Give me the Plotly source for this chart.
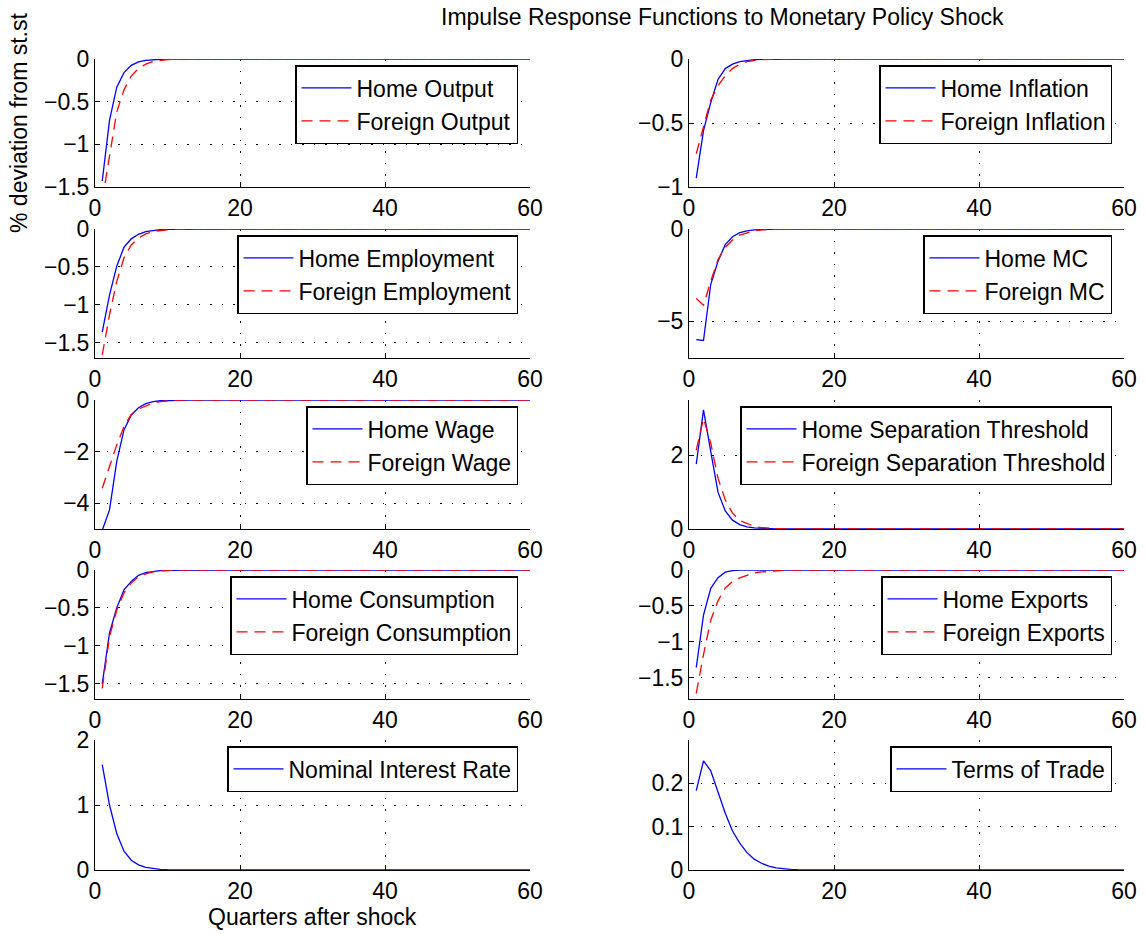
import plotly.graph_objects as go

W, H = 1146, 934
N = 60
quarters = list(range(1, N + 1))


def pad(vals):
    return list(vals) + [0.0] * (N - len(vals))


home_output = pad([-1.43, -0.72, -0.33, -0.16, -0.075, -0.035, -0.016, -0.007, -0.003, -0.0015, -0.0007, -0.0003])
foreign_output = pad([-1.66, -1.12, -0.62, -0.36, -0.2, -0.11, -0.06, -0.03, -0.015, -0.008, -0.004, -0.002, -0.001])
home_inflation = pad([-0.93, -0.56, -0.34, -0.16, -0.075, -0.04, -0.02, -0.01, -0.005, -0.002, -0.001])
foreign_inflation = pad([-0.74, -0.54, -0.32, -0.21, -0.13, -0.075, -0.04, -0.02, -0.01, -0.005, -0.0025, -0.001])
home_employment = pad([-1.36, -0.87, -0.49, -0.24, -0.13, -0.07, -0.035, -0.017, -0.008, -0.004, -0.002, -0.001])
foreign_employment = pad([-1.66, -1.13, -0.69, -0.38, -0.21, -0.12, -0.065, -0.035, -0.02, -0.01, -0.005, -0.003, -0.0015])
home_mc = pad([-6.0, -6.05, -3.0, -1.75, -0.85, -0.42, -0.2, -0.1, -0.05, -0.025, -0.012, -0.006])
foreign_mc = pad([-3.77, -4.13, -2.83, -1.66, -1.0, -0.6, -0.33, -0.2, -0.1, -0.05, -0.025, -0.012, -0.006])
home_wage = pad([-5.05, -4.26, -2.38, -1.16, -0.58, -0.3, -0.14, -0.065, -0.03, -0.015, -0.007, -0.003])
foreign_wage = pad([-3.42, -2.54, -1.74, -1.03, -0.56, -0.35, -0.22, -0.12, -0.06, -0.03, -0.015, -0.007])
home_sep = pad([1.76, 3.23, 2.1, 1.0, 0.49, 0.24, 0.12, 0.06, 0.03, 0.015, 0.007, 0.003])
foreign_sep = pad([2.14, 3.0, 2.33, 1.38, 0.79, 0.43, 0.23, 0.14, 0.07, 0.04, 0.02, 0.01, 0.005])
home_consumption = pad([-1.5, -0.83, -0.5, -0.26, -0.15, -0.07, -0.035, -0.017, -0.008, -0.004, -0.002, -0.001])
foreign_consumption = pad([-1.56, -0.88, -0.53, -0.3, -0.17, -0.09, -0.05, -0.025, -0.012, -0.006, -0.003, -0.0015])
home_exports = pad([-1.36, -0.63, -0.255, -0.107, -0.03, -0.01, -0.003, -0.001])
foreign_exports = pad([-1.72, -1.18, -0.70, -0.43, -0.25, -0.16, -0.11, -0.07, -0.04, -0.025, -0.015, -0.008, -0.004, -0.002, -0.001])
interest_rate = pad([1.62, 1.0, 0.56, 0.29, 0.15, 0.08, 0.04, 0.02, 0.01, 0.005, 0.0025, 0.001])
terms_of_trade = pad([0.183, 0.252, 0.229, 0.181, 0.131, 0.09, 0.062, 0.04, 0.025, 0.0155, 0.009, 0.005, 0.003, 0.0015, 0.0008, 0.0004])

x_ticks = [0, 20, 40, 60]

panels = [
    [("Home Output", home_output), ("Foreign Output", foreign_output)],
    [("Home Inflation", home_inflation), ("Foreign Inflation", foreign_inflation)],
    [("Home Employment", home_employment), ("Foreign Employment", foreign_employment)],
    [("Home MC", home_mc), ("Foreign MC", foreign_mc)],
    [("Home Wage", home_wage), ("Foreign Wage", foreign_wage)],
    [("Home Separation Threshold", home_sep), ("Foreign Separation Threshold", foreign_sep)],
    [("Home Consumption", home_consumption), ("Foreign Consumption", foreign_consumption)],
    [("Home Exports", home_exports), ("Foreign Exports", foreign_exports)],
    [("Nominal Interest Rate", interest_rate)],
    [("Terms of Trade", terms_of_trade)],
]
y_ranges = [[-1.5, 0], [-1, 0], [-1.7, 0], [-7, 0], [-5, 0], [0, 3.5],
            [-1.7, 0], [-1.8, 0], [0, 2], [0, 0.3]]
y_ticks = [[-1.5, -1, -0.5, 0], [-1, -0.5, 0], [-1.5, -1, -0.5, 0], [-5, 0],
           [-4, -2, 0], [0, 2], [-1.5, -1, -0.5, 0], [-1.5, -1, -0.5, 0],
           [0, 1, 2], [0, 0.1, 0.2]]

# target pixel positions in the window
tops = [59, 229, 400, 570, 740]
bottoms = [187, 358, 529, 699, 870]
lefts = [95, 689]
rights = [530, 1124]


def px(x):
    return x / W


def py(y):
    return 1 - y / H


FONT = "Liberation Sans, Arial, Helvetica, sans-serif"
FS = 23
colors = ["#0000ff", "#ff0000"]
dashes = ["solid", "11px,7px"]

fig = go.Figure()
layout = dict(
    width=W, height=H, autosize=False,
    margin=dict(l=0, r=0, t=0, b=0, pad=0, autoexpand=False),
    paper_bgcolor="white", plot_bgcolor="white",
    font=dict(family=FONT, size=FS, color="black"),
    showlegend=True,
)

for k, series in enumerate(panels):
    row, col = divmod(k, 2)
    sfx = "" if k == 0 else str(k + 1)
    leg = "legend" + sfx
    for j, (name, vals) in enumerate(series):
        fig.add_trace(go.Scatter(
            x=quarters, y=vals, mode="lines", name=name,
            line=dict(color=colors[j], width=1.3, dash=dashes[j]),
            xaxis="x" + sfx, yaxis="y" + sfx, legend=leg,
        ))
    axis_common = dict(
        showline=True, linecolor="black", linewidth=1, mirror=False,
        ticks="inside", ticklen=5, tickcolor="black", automargin=False,
        showgrid=True, gridcolor="#000000", gridwidth=1, griddash="1.5px,10px",
        zeroline=False, tickfont=dict(family=FONT, size=FS, color="black"),
    )
    layout["xaxis" + sfx] = dict(
        axis_common, domain=[px(lefts[col]), px(rights[col])],
        range=[0, 60], tickvals=x_ticks, anchor="y" + sfx,
        ticklabelstandoff=0,
    )
    layout["yaxis" + sfx] = dict(
        axis_common, domain=[py(bottoms[row]), py(tops[row])],
        range=y_ranges[k], tickvals=y_ticks[k], anchor="x" + sfx,
    )
    layout[leg] = dict(
        x=px(rights[col] - 12), y=py(tops[row] + 6),
        xanchor="right", yanchor="top", xref="paper", yref="paper",
        bgcolor="white", bordercolor="black", borderwidth=1.5,
        font=dict(family=FONT, size=FS, color="black"),
        itemwidth=50, tracegroupgap=0, traceorder="normal",
    )

layout["annotations"] = [
    dict(text="Impulse Response Functions to Monetary Policy Shock",
         x=px(722), y=py(17), xref="paper", yref="paper",
         xanchor="center", yanchor="middle", showarrow=False,
         font=dict(family=FONT, size=FS, color="black")),
    dict(text="% deviation from st.st",
         x=px(19), y=py(123), xref="paper", yref="paper",
         xanchor="center", yanchor="middle", showarrow=False, textangle=-90,
         font=dict(family=FONT, size=FS, color="black")),
    dict(text="Quarters after shock",
         x=px(312), y=py(917), xref="paper", yref="paper",
         xanchor="center", yanchor="middle", showarrow=False,
         font=dict(family=FONT, size=FS, color="black")),
]

fig.update_layout(**layout)
fig.write_html("out.html", config={"displayModeBar": False},
               post_script="document.body.style.margin='0';")
